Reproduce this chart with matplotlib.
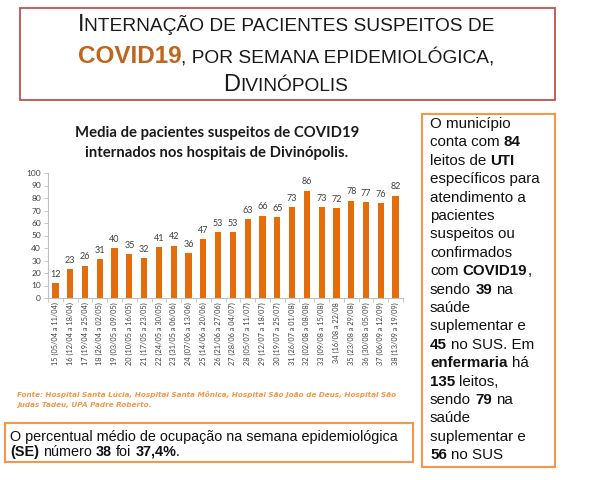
import matplotlib
matplotlib.use('Agg')
import matplotlib.pyplot as plt
from matplotlib.patches import Rectangle

# dados
semanas = ['15 (05/04 a 11/04)', '16 (12/04 a 18/04)', '17 (19/04 a 25/04)',
           '18 (26/04 a 02/05)', '19 (03/05 a 09/05)', '20 (10/05 a 16/05)',
           '21 (17/05 a 23/05)', '22 (24/05 a 30/05)', '23 (31/05 a 06/06)',
           '24 (07/06 a 13/06)', '25 (14/06 a 20/06)', '26 (21/06 a 27/06)',
           '27 (28/06 a 04/07)', '28 (05/07 a 11/07)', '29 (12/07 a 18/07)',
           '30 (19/07 a 25/07)', '31 (26/07 a 01/08)', '32 (02/08 a 08/08)',
           '33 (09/08 a 15/08)', '34 (16/08 a 22/08', '35 (23/08 a 29/08)',
           '36 (30/08 a 05/09)', '37 (06/09 a 12/09)', '38 (13/09 a 19/09)']
media_internados = [12, 23, 26, 31, 40, 35, 32, 41, 42, 36, 47, 53,
                    53, 63, 66, 65, 73, 86, 73, 72, 78, 77, 76, 82]
yticks = list(range(0, 101, 10))

W, H = 594, 480
fig = plt.figure(figsize=(W / 100, H / 100), dpi=100)
fig.patch.set_facecolor('white')
renderer = fig.canvas.get_renderer()

LARANJA = '#E46C0A'
LARANJA_CLARO = '#F79646'
CINZA = '#404040'


def largura(s, **kw):
    t = fig.text(0, 0, '|' + s + '|', **kw)
    w1 = t.get_window_extent(renderer).width
    t.remove()
    t = fig.text(0, 0, '||', **kw)
    w2 = t.get_window_extent(renderer).width
    t.remove()
    return w1 - w2


def linha(x, y, pedacos, ha='left', **base):
    # desenha uma linha com trechos de estilos diferentes (coordenadas em pixels)
    itens = []
    for s, kw in pedacos:
        k = dict(base)
        k.update(kw)
        sw = largura(' ', **k)
        lead = len(s) - len(s.lstrip(' '))
        trail = len(s) - len(s.rstrip(' '))
        core = s.strip(' ')
        if lead:
            itens.append(('', k, lead * sw))
        if core:
            itens.append((core, k, largura(core, **k)))
        if trail:
            itens.append(('', k, trail * sw))
    total = sum(w for _, _, w in itens)
    x0 = x - total / 2 if ha == 'center' else x
    for core, k, w in itens:
        if core:
            fig.text(x0 / W, 1 - y / H, core, ha='left', va='baseline', **k)
        x0 += w


def caixa(x1, y1, x2, y2, cor, lw):
    fig.add_artist(Rectangle((x1 / W, 1 - y2 / H), (x2 - x1) / W, (y2 - y1) / H,
                             transform=fig.transFigure, fill=False,
                             edgecolor=cor, linewidth=lw))


# titulo principal (versalete)
caixa(20, 8, 555, 100, '#C0504D', 1.3)
tit = dict(family='Liberation Sans', color='#1A1A1A')
vs = dict(fontsize=13.8)
grande = dict(fontsize=17)
linha(286, 31, [('I', grande),
                ('NTERNAÇÃO DE PACIENTES SUSPEITOS DE', vs)],
      ha='center', **tit)
linha(286, 63, [('COVID19', dict(fontsize=17.5, weight='bold', color='#C0651C')),
                (', POR SEMANA EPIDEMIOLÓGICA,', vs)],
      ha='center', **tit)
linha(286, 91, [('D', grande),
                ('IVINÓPOLIS', vs)],
      ha='center', **tit)

# grafico de barras
ax = fig.add_axes([48 / W, 1 - 298 / H, (403 - 48) / W, (298 - 173) / H])
x = list(range(len(semanas)))
ax.bar(x, media_internados, width=0.42, color=LARANJA)
for xi, v in zip(x, media_internados):
    ax.annotate(str(v), (xi, v), xytext=(0, 3), textcoords='offset points',
                ha='center', va='bottom', fontsize=6.5, color=CINZA,
                family='Lato')
ax.set_xlim(-0.5, len(semanas) - 0.5)
ax.set_ylim(0, 100)
ax.set_yticks(yticks)
ax.set_xticks(x)
ax.set_xticklabels(semanas, rotation=90, fontsize=5.3, color=CINZA, family='Lato')
ax.set_xticks([i - 0.5 for i in range(len(semanas) + 1)], minor=True)
ax.tick_params(axis='x', which='major', length=0, pad=3)
ax.tick_params(axis='x', which='minor', length=3, color='#BFBFBF', width=0.6)
ax.tick_params(axis='y', length=3, color='#BFBFBF', width=0.6, labelsize=6,
               labelcolor=CINZA, pad=2)
for lab in ax.get_yticklabels():
    lab.set_family('Lato')
for s in ['top', 'right']:
    ax.spines[s].set_visible(False)
for s in ['left', 'bottom']:
    ax.spines[s].set_color('#BFBFBF')
    ax.spines[s].set_linewidth(0.8)

tg = dict(family='Lato', weight='bold', fontsize=10.7, color='#1A1A1A')
linha(217, 137, [('Media de pacientes suspeitos de COVID19', {})], ha='center', **tg)
linha(217, 157, [('internados nos hospitais de Divinópolis.', {})], ha='center', **tg)

# fonte
fo = dict(family='DejaVu Sans', weight='bold', style='italic', fontsize=5.2,
          color=LARANJA_CLARO)
linha(17, 397, [('Fonte: Hospital Santa Lúcia, Hospital Santa Mônica, Hospital São João de Deus, Hospital São', {})], **fo)
linha(17, 406.5, [('Judas Tadeu, UPA Padre Roberto.', {})], **fo)

# caixa inferior
caixa(5, 423, 413, 462, LARANJA_CLARO, 1.5)
tb = dict(family='Liberation Sans', fontsize=10.4, color='#111111')
B = dict(weight='bold')
N = {}
linha(10, 441.5, [('O percentual médio de ocupação na semana epidemiológica', N)], **tb)
linha(10, 456, [('(SE)', B), (' número ', N), ('38', B), (' foi ', N),
                ('37,4%', B), ('.', N)], **tb)

# caixa lateral
caixa(422, 114, 555, 467, LARANJA_CLARO, 1.5)
tl = dict(family='Liberation Sans', fontsize=10.9, color='#111111')
texto_lateral = [
    [('O município', N)],
    [('conta com ', N), ('84', B)],
    [('leitos de ', N), ('UTI', B)],
    [('específicos para', N)],
    [('atendimento a', N)],
    [('pacientes', N)],
    [('suspeitos ou', N)],
    [('confirmados', N)],
    [('com ', N), ('COVID19', B), (',', N)],
    [('sendo ', N), ('39', B), (' na', N)],
    [('saúde', N)],
    [('suplementar e', N)],
    [('45', B), (' no SUS. Em', N)],
    [('enfermaria', B), (' há', N)],
    [('135', B), (' leitos,', N)],
    [('sendo ', N), ('79', B), (' na', N)],
    [('saúde', N)],
    [('suplementar e', N)],
    [('56', B), (' no SUS', N)],
]
for i, ped in enumerate(texto_lateral):
    linha(430, 128 + i * 18.4, ped, **tl)

fig.savefig('out.png', dpi=100)
